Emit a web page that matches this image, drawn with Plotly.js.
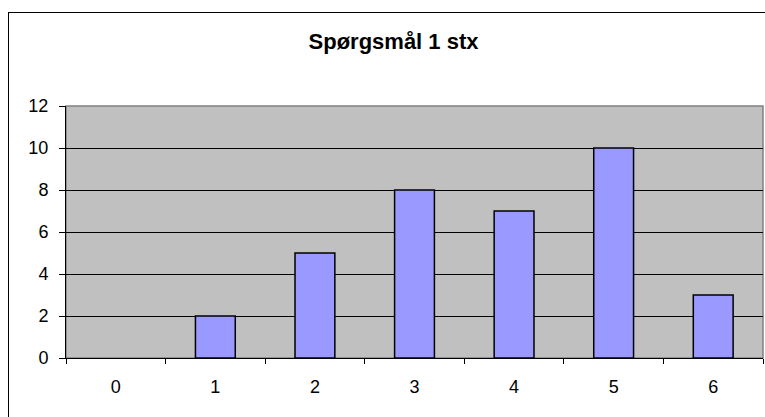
<!DOCTYPE html>
<html>
<head>
<meta charset="utf-8">
<script src="https://cdn.plot.ly/plotly-3.0.1.min.js"></script>
<style>
  html, body { margin: 0; padding: 0; background: #ffffff; overflow: hidden; }
  #wrap { position: relative; width: 765px; height: 417px; overflow: hidden; }
  #chart { position: absolute; left: 0; top: 0; width: 765px; height: 417px; }
  /* chart frame: left and top edges, running off the page */
  #frame {
    position: absolute; left: 8px; top: 12px; width: 800px; height: 450px;
    border-left: 1px solid #000; border-top: 1px solid #000;
    pointer-events: none;
  }
</style>
</head>
<body>
<div id="wrap">
  <div id="chart"></div>
  <div id="frame"></div>
</div>
<script>
// Answer categories and number of responses
const categories = ['0', '1', '2', '3', '4', '5', '6'];
const counts = [0, 2, 5, 8, 7, 10, 3];
const chartTitle = 'Spørgsmål 1 stx';
const yTicks = [0, 2, 4, 6, 8, 10, 12];

const font = 'Arial, "Liberation Sans", sans-serif';

const trace = {
  type: 'bar',
  x: categories,
  y: counts,
  marker: {
    color: '#9999FF',
    // empty categories get no outline
    line: { color: '#000000', width: counts.map(v => (v > 0 ? 1.5 : 0)) }
  },
  hoverinfo: 'x+y'
};

const layout = {
  width: 765,
  height: 417,
  margin: { l: 66, r: 2, t: 106, b: 59, pad: 0 },
  paper_bgcolor: '#ffffff',
  plot_bgcolor: '#C0C0C0',
  showlegend: false,
  bargap: 0.6,
  font: { family: font, size: 18, color: '#000000' },
  title: {
    text: '<b>' + chartTitle + '</b>',
    font: { family: font, size: 22, color: '#000000' },
    xref: 'container', yref: 'container',
    x: 0.5144, xanchor: 'center',
    y: 0.902, yanchor: 'middle'
  },
  xaxis: {
    type: 'category',
    categories: categories,
    tickson: 'boundaries',
    ticks: 'outside', ticklen: 5, tickwidth: 1, tickcolor: '#000000',
    ticklabelstandoff: 12,
    showline: true, linecolor: '#000000', linewidth: 1,
    showgrid: false, zeroline: false,
    tickfont: { family: font, size: 18, color: '#000000' }
  },
  yaxis: {
    range: [0, 12],
    tickvals: yTicks,
    ticks: 'outside', ticklen: 6, tickwidth: 1, tickcolor: '#000000',
    ticklabelstandoff: 7,
    showline: true, linecolor: '#000000', linewidth: 1,
    showgrid: true, gridcolor: '#000000', gridwidth: 1,
    zeroline: false,
    tickfont: { family: font, size: 18, color: '#000000' }
  },
  shapes: [
    // grey border round the plot area
    {
      type: 'rect', xref: 'paper', yref: 'paper',
      x0: 0, x1: 1, y0: 0, y1: 1,
      line: { color: '#808080', width: 1.5 },
      layer: 'below'
    }
  ]
};

Plotly.newPlot('chart', [trace], layout, { staticPlot: true, displayModeBar: false });
</script>
</body>
</html>
